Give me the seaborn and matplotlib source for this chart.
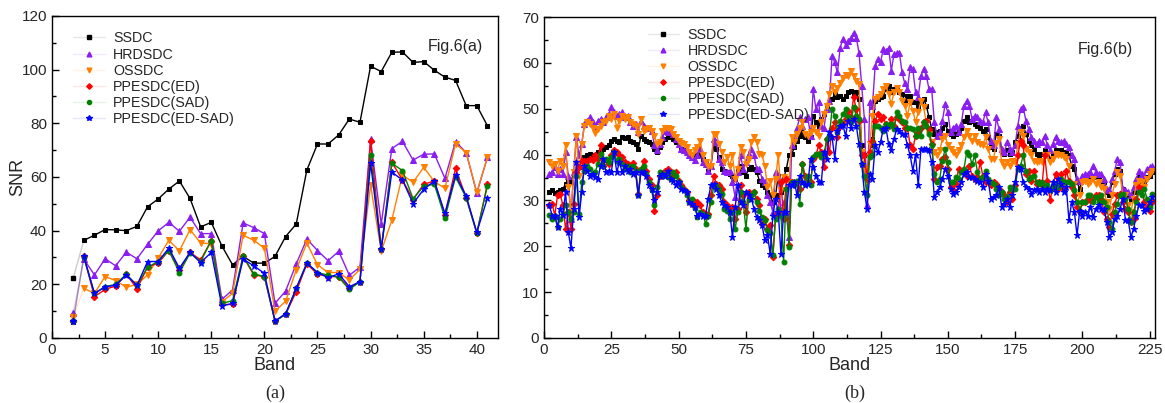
import numpy as np
import pandas as pd
import matplotlib
matplotlib.use("Agg")
import matplotlib.pyplot as plt
from matplotlib.lines import Line2D
from matplotlib.ticker import MultipleLocator
from matplotlib.colors import to_rgb
import seaborn as sns

methods = ["SSDC", "HRDSDC", "OSSDC", "PPESDC(ED)", "PPESDC(SAD)", "PPESDC(ED-SAD)"]
colors = ["#000000", "#8A1EF0", "#FF8000", "#FF0000", "#008000", "#0000FF"]
markers = ["s", "^", "v", "D", "o", "*"]
msizes = [3.5, 4, 4, 3.3, 3.5, 5]

# ---- Fig.6(a): bands 2..41 ----
bands_a = list(range(2, 42))
ssdc_a = [22.3, 36.4, 38.3, 40.4, 40.3, 40.0, 41.6, 48.9, 51.8, 55.5,
          58.5, 52.0, 41.4, 43.1, 34.3, 27.3, 30.4, 27.9, 27.9, 30.4,
          37.8, 42.5, 62.6, 72.3, 72.3, 75.7, 81.6, 80.4, 101.3, 99.3,
          106.5, 106.6, 102.7, 103.0, 99.8, 97.2, 96.0, 86.6, 86.6, 79.1]
hrdsdc_a = [9.4, 29.4, 23.5, 29.5, 26.9, 32.0, 29.5, 34.9, 39.9, 43.1,
            39.8, 45.0, 38.9, 38.9, 14.4, 17.9, 42.9, 41.1, 38.9, 12.9,
            17.5, 27.6, 36.9, 32.6, 28.8, 32.3, 23.4, 26.4, 74.0, 42.5,
            70.6, 73.3, 66.3, 68.5, 68.6, 59.5, 73.2, 69.1, 54.0, 67.3]
ossdc_a = [7.9, 18.5, 16.6, 22.9, 21.4, 18.9, 20.0, 23.5, 29.8, 36.4,
           32.5, 40.4, 35.4, 35.1, 13.5, 16.6, 38.3, 36.4, 33.5, 10.0,
           13.7, 25.4, 35.4, 27.3, 24.4, 24.4, 21.6, 25.6, 57.0, 32.3,
           43.9, 60.8, 58.0, 63.6, 58.3, 55.8, 72.3, 69.1, 54.4, 67.3]
ed_a = [6.3, 30.4, 15.4, 18.1, 19.4, 23.8, 18.4, 26.4, 27.9, 32.6,
        25.4, 31.9, 29.1, 36.3, 12.5, 12.5, 30.4, 23.5, 22.9, 6.3,
        8.8, 17.3, 27.6, 23.8, 22.9, 22.9, 18.5, 21.0, 73.4, 33.1,
        65.5, 58.9, 51.6, 57.3, 58.5, 46.0, 63.2, 52.3, 39.1, 57.3]
sad_a = [6.3, 30.1, 16.6, 19.1, 20.0, 23.8, 19.6, 26.4, 28.5, 32.6,
         24.4, 31.6, 28.5, 36.3, 12.9, 13.9, 30.6, 23.9, 22.9, 6.3,
         8.8, 18.5, 27.9, 24.4, 23.4, 22.6, 18.1, 21.0, 68.2, 33.1,
         65.1, 62.4, 51.9, 56.6, 57.3, 44.8, 60.0, 52.3, 39.1, 56.8]
edsad_a = [6.3, 30.4, 16.6, 19.1, 19.6, 23.5, 19.6, 28.5, 28.5, 33.5,
           26.0, 31.9, 28.1, 31.9, 11.9, 12.9, 29.4, 26.9, 24.1, 6.3,
           9.1, 18.5, 27.9, 24.4, 22.5, 23.9, 19.1, 21.0, 65.1, 33.1,
           61.8, 58.9, 50.1, 55.4, 58.5, 46.4, 60.8, 52.9, 39.4, 52.1]

# ---- Fig.6(b): bands 2..226 ----
bands_b = list(range(2, 227))
ssdc_b = [31.8, 32.2, 31.7, 31.8, 32.2, 32.5, 33.6, 34.7, 34.0, 36.2,
          36.5, 37.2, 39.1, 39.4, 39.8, 40.1, 39.8, 39.8, 40.5, 40.9,
          41.2, 41.6, 42.0, 43.0, 43.4, 43.0, 42.7, 43.8, 43.6, 43.8,
          43.0, 42.8, 42.3, 41.2, 44.1, 43.4, 43.0, 42.7, 42.3, 41.2,
          40.5, 41.6, 42.7, 43.4, 43.8, 43.8, 43.4, 42.7, 42.0, 41.2,
          40.9, 40.5, 39.8, 39.8, 40.0, 41.6, 39.8, 39.1, 38.3, 36.5,
          37.6, 42.0, 41.2, 39.4, 36.9, 36.5, 36.2, 35.8, 35.4, 34.7,
          36.5, 37.6, 36.2, 35.4, 36.9, 37.2, 36.9, 36.2, 34.3, 33.3,
          32.9, 31.8, 31.1, 29.6, 31.1, 35.4, 31.8, 34.7, 36.9, 39.8,
          40.1, 41.6, 43.0, 44.1, 44.9, 43.8, 43.0, 43.8, 48.5, 47.0,
          46.3, 47.8, 48.8, 50.7, 51.4, 52.1, 53.2, 52.5, 52.8, 52.1,
          52.8, 53.6, 53.9, 53.2, 53.6, 52.1, 42.0, 39.8, 34.7, 42.0,
          43.4, 51.7, 52.1, 52.5, 52.8, 54.3, 55.0, 53.6, 54.3, 54.6,
          53.6, 53.2, 51.7, 52.8, 52.8, 51.4, 51.4, 50.3, 51.7, 52.1,
          50.7, 48.1, 45.6, 44.5, 44.9, 45.2, 45.9, 46.7, 45.2, 44.5,
          44.1, 44.5, 45.2, 45.9, 47.4, 48.1, 47.0, 47.4, 46.7, 46.3,
          45.9, 45.2, 45.6, 43.8, 41.6, 41.3, 44.5, 44.1, 40.5, 40.1,
          40.9, 40.1, 40.5, 42.7, 44.1, 45.9, 46.3, 44.5, 43.0, 42.0,
          41.2, 40.1, 39.8, 40.1, 40.9, 39.8, 39.1, 39.8, 40.9, 40.5,
          40.9, 40.5, 40.5, 39.8, 37.6, 36.9, 34.0, 32.5, 34.7, 34.7,
          35.1, 35.4, 35.4, 35.1, 35.1, 34.3, 34.0, 31.8, 31.1, 34.0,
          35.8, 36.9, 36.5, 32.5, 31.8, 31.1, 30.4, 31.8, 34.0, 35.4,
          34.3, 33.6, 35.1, 35.4, 36.2]
hrdsdc_b = [35.8, 36.2, 37.2, 35.8, 36.9, 35.8, 40.5, 35.4, 26.0, 36.2,
            43.8, 39.8, 42.3, 46.7, 47.4, 48.1, 47.0, 46.3, 47.4, 47.8,
            47.0, 48.1, 48.8, 50.3, 49.2, 48.5, 48.8, 49.2, 48.1, 48.5,
            47.0, 46.3, 46.7, 44.9, 47.4, 46.3, 45.9, 45.9, 45.2, 42.0,
            40.9, 42.3, 43.8, 45.2, 44.9, 44.9, 44.5, 43.4, 42.3, 41.2,
            40.9, 40.5, 39.8, 39.4, 38.8, 39.8, 41.2, 38.3, 38.0, 36.5,
            37.6, 43.4, 42.7, 39.1, 38.3, 36.5, 36.2, 36.5, 34.0, 30.7,
            36.2, 39.8, 36.9, 38.3, 40.1, 41.2, 39.8, 36.9, 36.9, 34.7,
            34.0, 31.1, 29.6, 27.5, 36.2, 35.4, 27.5, 29.6, 26.7, 22.0,
            42.0, 43.8, 45.9, 48.1, 46.3, 47.8, 48.1, 44.1, 54.3, 49.9,
            51.4, 46.3, 45.9, 49.9, 51.7, 61.5, 60.1, 57.9, 63.3, 65.2,
            64.0, 64.8, 65.5, 66.6, 65.5, 62.2, 55.0, 47.8, 29.0, 51.4,
            50.7, 59.3, 60.8, 60.1, 63.0, 62.5, 63.3, 58.3, 61.9, 62.2,
            62.2, 57.9, 55.5, 54.3, 59.0, 58.6, 53.6, 52.5, 57.2, 58.6,
            57.2, 54.3, 54.3, 47.0, 44.1, 44.9, 47.4, 51.0, 49.2, 44.9,
            45.9, 46.3, 44.9, 46.7, 50.7, 51.7, 50.7, 47.8, 48.5, 48.1,
            47.4, 47.0, 49.2, 47.0, 43.0, 42.0, 48.1, 45.6, 41.2, 40.5,
            42.7, 41.2, 40.5, 42.0, 46.3, 49.9, 50.3, 47.4, 45.6, 43.8,
            43.0, 42.3, 43.0, 42.7, 44.1, 42.0, 40.9, 42.3, 43.8, 43.0,
            42.7, 43.0, 42.3, 41.6, 39.8, 39.1, 34.7, 34.3, 35.4, 35.8,
            35.8, 36.2, 37.6, 36.2, 35.8, 35.8, 34.7, 32.5, 32.2, 34.7,
            36.5, 39.1, 38.3, 32.5, 32.2, 31.8, 31.1, 32.9, 34.7, 36.5,
            35.8, 35.4, 36.9, 37.2, 37.6]
ossdc_b = [38.3, 37.6, 38.0, 36.5, 38.7, 37.6, 42.0, 32.9, 27.5, 36.2,
           44.1, 35.4, 42.3, 46.3, 47.0, 46.7, 45.9, 44.7, 45.6, 46.3,
           47.0, 47.4, 48.5, 47.8, 48.8, 45.9, 47.4, 48.5, 47.8, 48.1,
           47.0, 46.7, 46.3, 44.5, 47.8, 45.2, 45.6, 45.9, 45.2, 44.1,
           42.3, 42.7, 45.2, 45.9, 45.7, 45.6, 44.5, 43.8, 43.0, 42.5,
           42.3, 41.6, 40.5, 39.8, 41.0, 41.6, 43.0, 39.8, 38.3, 37.6,
           37.6, 44.5, 44.5, 42.3, 40.5, 38.3, 39.4, 37.6, 39.8, 34.7,
           36.9, 41.6, 40.5, 38.0, 39.1, 42.7, 43.8, 42.7, 40.1, 39.8,
           37.6, 32.9, 34.3, 31.1, 34.7, 39.8, 32.2, 35.1, 34.7, 34.0,
           43.8, 42.7, 44.5, 45.9, 47.0, 44.5, 44.1, 44.9, 45.9, 44.9,
           44.1, 47.0, 48.8, 50.7, 53.2, 55.0, 53.6, 54.6, 55.5, 56.8,
           57.4, 57.2, 58.3, 57.2, 56.1, 55.4, 40.5, 36.9, 34.0, 42.3,
           48.5, 52.1, 52.5, 53.2, 54.3, 55.0, 53.2, 51.0, 53.6, 54.6,
           53.6, 51.7, 50.7, 48.5, 51.4, 49.6, 47.0, 49.2, 51.7, 50.3,
           47.0, 44.5, 42.7, 40.5, 39.8, 40.9, 43.4, 44.1, 42.0, 41.2,
           40.5, 39.8, 40.9, 42.0, 43.8, 45.2, 44.1, 43.0, 44.1, 42.7,
           42.3, 42.0, 43.8, 41.2, 39.1, 39.1, 42.5, 43.4, 38.3, 37.6,
           38.3, 37.6, 38.7, 38.3, 42.3, 44.9, 44.1, 41.2, 40.5, 39.8,
           38.7, 38.3, 38.7, 38.3, 39.8, 39.8, 38.3, 39.1, 40.1, 39.8,
           39.8, 39.4, 39.1, 37.6, 32.5, 33.6, 29.3, 31.1, 34.0, 34.3,
           33.6, 34.0, 34.7, 33.6, 34.0, 32.9, 32.5, 29.6, 28.2, 31.1,
           33.6, 36.2, 35.4, 31.1, 31.1, 28.9, 27.5, 30.4, 33.3, 34.3,
           34.0, 32.9, 34.7, 35.8, 36.5]
ed_b = [28.9, 29.3, 26.7, 31.1, 31.4, 28.9, 23.8, 27.5, 23.8, 29.3,
        36.2, 37.2, 38.5, 38.7, 38.7, 39.1, 38.9, 39.8, 39.1, 42.0,
        37.6, 38.9, 38.0, 39.8, 40.9, 40.5, 39.8, 39.4, 38.3, 38.0,
        37.6, 38.2, 36.9, 31.4, 36.5, 38.7, 36.5, 34.7, 33.3, 27.8,
        31.1, 35.4, 35.8, 36.5, 36.9, 36.2, 35.4, 36.2, 34.3, 33.3,
        32.5, 31.8, 30.0, 29.3, 29.6, 29.6, 28.9, 27.5, 26.7, 27.1,
        31.1, 35.4, 33.6, 33.3, 32.5, 29.6, 28.9, 28.2, 28.6, 26.0,
        28.2, 33.3, 31.1, 27.5, 31.8, 31.1, 31.8, 30.4, 28.9, 24.9,
        26.0, 23.8, 24.6, 17.7, 26.7, 27.5, 34.0, 26.0, 34.7, 20.2,
        34.0, 33.6, 34.0, 32.5, 38.0, 35.4, 34.0, 34.0, 39.1, 39.8,
        42.0, 40.5, 37.2, 43.4, 40.5, 45.9, 47.0, 43.8, 46.3, 46.7,
        47.8, 49.6, 48.1, 52.5, 49.9, 47.4, 39.8, 39.8, 34.7, 40.5,
        43.0, 47.4, 48.8, 47.8, 48.1, 46.7, 46.3, 47.8, 46.3, 48.1,
        47.8, 47.0, 45.9, 45.9, 42.0, 41.2, 44.1, 44.9, 45.9, 47.0,
        47.4, 45.6, 42.3, 34.7, 37.2, 37.6, 39.1, 39.4, 36.9, 32.9,
        32.2, 33.6, 36.9, 36.5, 36.5, 35.4, 37.6, 35.4, 34.7, 35.1,
        38.3, 35.4, 34.0, 34.3, 33.3, 34.0, 33.6, 32.5, 31.8, 31.1,
        29.6, 31.8, 30.4, 33.3, 39.8, 43.0, 42.0, 35.8, 36.5, 34.3,
        36.5, 33.6, 34.0, 33.3, 39.8, 34.3, 30.0, 32.9, 35.8, 32.5,
        35.8, 32.5, 36.5, 34.3, 32.9, 31.1, 28.6, 27.5, 29.6, 29.6,
        30.4, 30.0, 30.4, 31.1, 31.1, 30.4, 27.5, 26.0, 24.2, 27.1,
        29.3, 31.1, 31.4, 29.6, 28.2, 27.5, 25.3, 26.0, 30.4, 32.9,
        32.5, 29.6, 28.6, 27.8, 29.6]
sad_b = [26.9, 26.0, 26.7, 24.2, 26.0, 27.1, 28.9, 27.5, 26.0, 27.5,
         35.4, 27.1, 34.0, 36.5, 37.6, 36.9, 35.8, 36.2, 38.0, 40.1,
         37.6, 39.1, 38.3, 39.4, 40.5, 38.7, 39.1, 38.0, 36.9, 37.6,
         36.2, 37.6, 36.5, 31.1, 36.9, 37.6, 35.8, 34.0, 32.2, 28.9,
         32.9, 36.2, 35.4, 35.8, 35.1, 34.7, 36.2, 35.4, 34.0, 32.9,
         32.2, 31.1, 29.6, 30.4, 28.4, 26.4, 27.5, 27.1, 24.9, 26.7,
         29.6, 32.9, 33.3, 32.5, 31.4, 28.2, 27.8, 26.0, 27.5, 23.8,
         27.5, 31.8, 29.6, 23.8, 30.4, 31.1, 31.8, 29.6, 27.8, 26.4,
         25.7, 23.5, 22.8, 18.0, 26.0, 28.2, 26.7, 16.6, 32.5, 19.9,
         34.0, 33.3, 34.3, 29.3, 38.0, 33.6, 35.4, 33.3, 39.4, 40.1,
         40.1, 39.4, 40.1, 43.4, 44.1, 49.9, 48.5, 44.9, 47.4, 48.8,
         49.9, 48.1, 47.0, 50.3, 48.5, 47.8, 38.0, 35.4, 31.1, 39.4,
         39.8, 46.3, 46.3, 45.9, 45.2, 46.7, 46.3, 46.7, 45.6, 49.2,
         48.5, 47.4, 47.0, 45.9, 45.9, 45.6, 44.1, 45.9, 44.1, 47.0,
         46.3, 44.5, 42.0, 35.8, 34.0, 34.7, 38.7, 41.2, 38.3, 34.0,
         34.0, 35.1, 34.7, 36.2, 36.9, 40.5, 39.8, 38.0, 39.8, 36.2,
         34.7, 35.1, 36.5, 34.7, 34.0, 33.6, 32.5, 31.1, 31.8, 30.4,
         30.7, 32.9, 32.5, 32.5, 36.9, 37.6, 39.8, 36.5, 34.7, 35.1,
         35.4, 34.0, 33.6, 34.0, 32.9, 33.3, 32.2, 32.9, 33.6, 32.9,
         34.7, 34.0, 34.0, 34.0, 33.6, 32.2, 29.6, 27.8, 29.6, 29.6,
         31.1, 31.1, 29.6, 30.7, 29.6, 31.1, 29.6, 28.6, 25.3, 23.8,
         27.5, 29.3, 31.1, 31.4, 30.4, 28.2, 25.3, 27.5, 29.6, 31.8,
         31.1, 32.5, 30.4, 28.6, 31.4]
edsad_b = [28.9, 26.7, 26.7, 24.2, 28.2, 26.9, 31.8, 23.1, 19.6, 28.2,
           38.3, 26.4, 31.8, 37.6, 36.5, 35.4, 35.8, 35.1, 34.7, 37.6,
           39.1, 36.2, 36.5, 36.2, 40.5, 36.2, 38.3, 36.2, 37.6, 36.5,
           36.9, 35.8, 36.2, 31.1, 36.2, 36.2, 35.4, 33.3, 32.5, 30.0,
           31.8, 35.4, 35.8, 35.4, 36.5, 34.7, 34.3, 33.3, 34.0, 32.5,
           32.2, 31.8, 29.6, 29.3, 28.5, 26.7, 27.1, 26.7, 26.7, 30.4,
           33.3, 33.6, 32.5, 31.1, 29.6, 28.9, 28.6, 27.5, 22.0, 28.6,
           33.3, 29.6, 28.9, 31.8, 31.1, 30.4, 28.2, 26.4, 25.7, 24.6,
           21.3, 22.4, 18.4, 26.7, 30.4, 27.5, 18.4, 27.5, 27.5, 33.3,
           33.3, 34.0, 31.1, 35.4, 34.0, 33.3, 33.6, 39.1, 37.2, 35.4,
           34.0, 34.0, 40.5, 39.1, 44.9, 43.8, 39.1, 45.2, 46.3, 46.5,
           44.1, 47.4, 45.9, 47.8, 46.3, 42.3, 38.0, 31.8, 28.2, 35.8,
           34.7, 42.0, 40.5, 42.7, 45.6, 45.9, 42.3, 40.9, 43.4, 45.6,
           45.2, 44.5, 44.5, 42.0, 39.8, 36.5, 39.8, 33.3, 41.2, 41.2,
           41.2, 40.9, 38.3, 30.7, 31.8, 32.9, 34.7, 36.9, 35.4, 32.5,
           31.4, 31.8, 32.9, 34.0, 35.8, 36.2, 35.1, 35.1, 34.7, 34.3,
           34.0, 32.9, 35.8, 34.3, 30.4, 30.7, 31.1, 32.9, 28.6, 29.3,
           30.4, 28.6, 31.1, 34.0, 37.2, 36.9, 34.0, 32.9, 32.5, 31.4,
           32.2, 32.5, 31.8, 32.5, 31.8, 32.5, 32.2, 34.0, 31.8, 34.7,
           33.6, 31.8, 32.9, 25.7, 29.6, 27.5, 22.4, 27.8, 26.7, 27.5,
           26.7, 28.6, 26.4, 28.2, 28.9, 28.2, 28.2, 25.3, 22.0, 23.1,
           26.0, 26.7, 28.2, 30.4, 25.7, 25.7, 22.0, 23.8, 26.7, 28.9,
           28.9, 27.8, 28.2, 29.6, 30.7]


def long_form(bands, series):
    frames = []
    for name, vals in zip(methods, series):
        frames.append(pd.DataFrame({"Band": bands, "SNR": vals, "method": name}))
    return pd.concat(frames, ignore_index=True)


df_a = long_form(bands_a, [ssdc_a, hrdsdc_a, ossdc_a, ed_a, sad_a, edsad_a])
df_b = long_form(bands_b, [ssdc_b, hrdsdc_b, ossdc_b, ed_b, sad_b, edsad_b])

sns.set_style("white")
plt.rcParams["font.family"] = ["Liberation Sans", "DejaVu Sans"]

fig = plt.figure(figsize=(11.65, 4.03), dpi=100)
ax1 = fig.add_axes([0.0446, 0.1613, 0.3829, 0.7990])
ax2 = fig.add_axes([0.4670, 0.1613, 0.5245, 0.7965])


def draw(ax, df, skip_first):
    for name, col, mk, ms in zip(methods, colors, markers, msizes):
        d = df[df["method"] == name]
        if skip_first:
            # first segment is drawn very faintly in the original
            ax.plot(d["Band"].iloc[:2], d["SNR"].iloc[:2], color=col, lw=1, alpha=0.2)
            ax.plot(d["Band"].iloc[:1], d["SNR"].iloc[:1], ls="none", marker=mk,
                    ms=ms, color=col, mec=col)
            d = d.iloc[1:]
        sns.lineplot(data=d, x="Band", y="SNR", ax=ax, color=col, marker=mk,
                     markersize=ms, markeredgecolor=col, linewidth=1, legend=False)


draw(ax1, df_a, True)
draw(ax2, df_b, False)


def pale(c, k=0.9):
    r, g, b = to_rgb(c)
    return (r + (1 - r) * k, g + (1 - g) * k, b + (1 - b) * k)


handles = [Line2D([], [], color=pale(c), lw=1, marker=m, ms=s * 0.85,
                  markerfacecolor=c, markeredgecolor=c)
           for c, m, s in zip(colors, markers, msizes)]

for ax in (ax1, ax2):
    for sp in ax.spines.values():
        sp.set_visible(True)
        sp.set_color("black")
        sp.set_linewidth(1)
    ax.tick_params(which="both", direction="in", bottom=True, left=True,
                   labelsize=11, color="black")
    ax.tick_params(which="major", length=5, width=1)
    ax.tick_params(which="minor", length=3, width=1)
    ax.set_xlabel("Band", fontsize=13, labelpad=0)

ax1.set_xlim(0, 42)
ax1.set_ylim(0, 120)
ax1.xaxis.set_major_locator(MultipleLocator(5))
ax1.xaxis.set_minor_locator(MultipleLocator(2.5))
ax1.yaxis.set_major_locator(MultipleLocator(20))
ax1.yaxis.set_minor_locator(MultipleLocator(10))
ax1.set_ylabel("SNR", fontsize=13, labelpad=-3)

ax2.set_xlim(0, 227)
ax2.set_ylim(0, 70)
ax2.xaxis.set_major_locator(MultipleLocator(25))
ax2.xaxis.set_minor_locator(MultipleLocator(12.5))
ax2.yaxis.set_major_locator(MultipleLocator(10))
ax2.yaxis.set_minor_locator(MultipleLocator(5))
ax2.set_ylabel("")

leg_kw = dict(loc="upper left", frameon=False, fontsize=10.3, handlelength=2.2,
              labelspacing=0.15, handletextpad=0.6, borderaxespad=0)
ax1.legend(handles, methods, bbox_to_anchor=(0.035, 0.97), **leg_kw)
ax2.legend(handles, methods, bbox_to_anchor=(0.16, 0.985), **leg_kw)

ax1.text(0.905, 0.905, "Fig.6(a)", transform=ax1.transAxes, fontsize=11.5,
         ha="center", va="center")
ax2.text(0.918, 0.9, "Fig.6(b)", transform=ax2.transAxes, fontsize=11.5,
         ha="center", va="center")

fig.text(0.236, 0.025, "(a)", fontsize=13, ha="center", va="center",
         family=["Liberation Serif", "DejaVu Serif"])
fig.text(0.734, 0.025, "(b)", fontsize=13, ha="center", va="center",
         family=["Liberation Serif", "DejaVu Serif"])

fig.savefig("out.png", dpi=100)
